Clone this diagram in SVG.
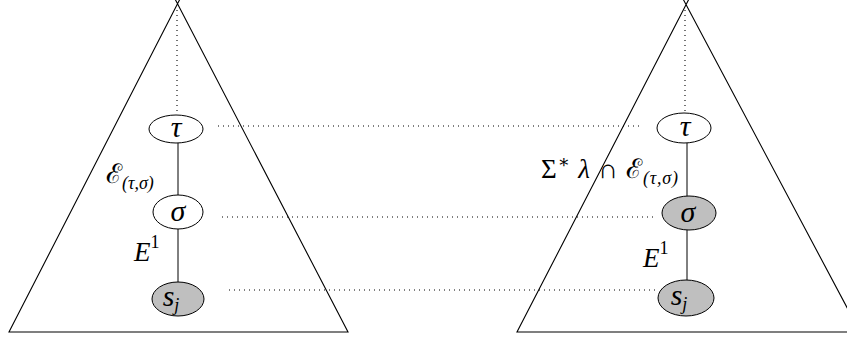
<svg xmlns="http://www.w3.org/2000/svg" width="847" height="337" viewBox="0 0 847 337">
<style>
.tri{fill:none;stroke:#000;stroke-width:1.1}
.edge{stroke:#000;stroke-width:1;fill:none}
.dot{stroke:#000;stroke-width:1.1;stroke-dasharray:1 4;fill:none}
.nw{fill:#fff;stroke:#000;stroke-width:1}
.ng{fill:#bfbfbf;stroke:#000;stroke-width:1}
text{font-family:"Liberation Serif","DejaVu Serif",serif;font-size:27px;fill:#000}
.m{font-style:italic}
.g{font-size:30px;font-style:italic}
.sub{font-size:18px;font-style:italic}
.sup{font-size:18px;font-style:normal}
</style>
<rect width="847" height="337" fill="#fff"/>
<g id="trees">
<polyline class="tri" points="181,-3 9,332 348,332 174,-3"/>
<polyline class="tri" points="690,-3 517,332 860,332 682,-3"/>
</g>
<g id="connectors">
<line class="dot" x1="177" y1="10" x2="177" y2="114"/>
<line class="dot" x1="685" y1="10" x2="685" y2="113"/>
<line class="edge" x1="178" y1="143" x2="178" y2="195"/>
<line class="edge" x1="178" y1="229" x2="178" y2="282"/>
<line class="edge" x1="687" y1="143" x2="687" y2="196"/>
<line class="edge" x1="687" y1="230" x2="687" y2="280"/>
<line class="dot" x1="218" y1="126" x2="640" y2="126"/>
<line class="dot" x1="222" y1="217" x2="653" y2="217"/>
<line class="dot" x1="229" y1="290" x2="657" y2="290"/>
<text x="106" y="183">ℰ<tspan class="sub" dy="6">(τ,σ)</tspan></text>
<text x="134" y="261" class="m">E<tspan class="sup" dy="-13">1</tspan></text>
<text x="541" y="178" textLength="137">Σ<tspan class="sup" dy="-10">∗</tspan><tspan class="m" dy="10"> λ</tspan> ∩ ℰ<tspan class="sub" dy="6">(τ,σ)</tspan></text>
<text x="643" y="267" class="m">E<tspan class="sup" dy="-13">1</tspan></text>
</g>
<g id="tau-left">
<ellipse class="nw" cx="176" cy="129" rx="27" ry="14"/>
<text x="176" y="137" class="g" text-anchor="middle">τ</text>
</g>
<g id="sigma-left">
<ellipse class="nw" cx="178" cy="212" rx="25" ry="17"/>
<text x="178" y="221" class="g" text-anchor="middle">σ</text>
</g>
<g id="sj-left">
<ellipse class="ng" cx="178" cy="299" rx="26" ry="17"/>
<text x="171" y="306" class="g" text-anchor="middle">s<tspan class="sub" dy="5">j</tspan></text>
</g>
<g id="tau-right">
<ellipse class="nw" cx="684" cy="128" rx="27" ry="15"/>
<text x="685" y="136" class="g" text-anchor="middle">τ</text>
</g>
<g id="sigma-right">
<ellipse class="ng" cx="689" cy="213" rx="27" ry="17"/>
<text x="688" y="222" class="g" text-anchor="middle">σ</text>
</g>
<g id="sj-right">
<ellipse class="ng" cx="686" cy="298" rx="28" ry="18"/>
<text x="679" y="305" class="g" text-anchor="middle">s<tspan class="sub" dy="5">j</tspan></text>
</g>
</svg>
